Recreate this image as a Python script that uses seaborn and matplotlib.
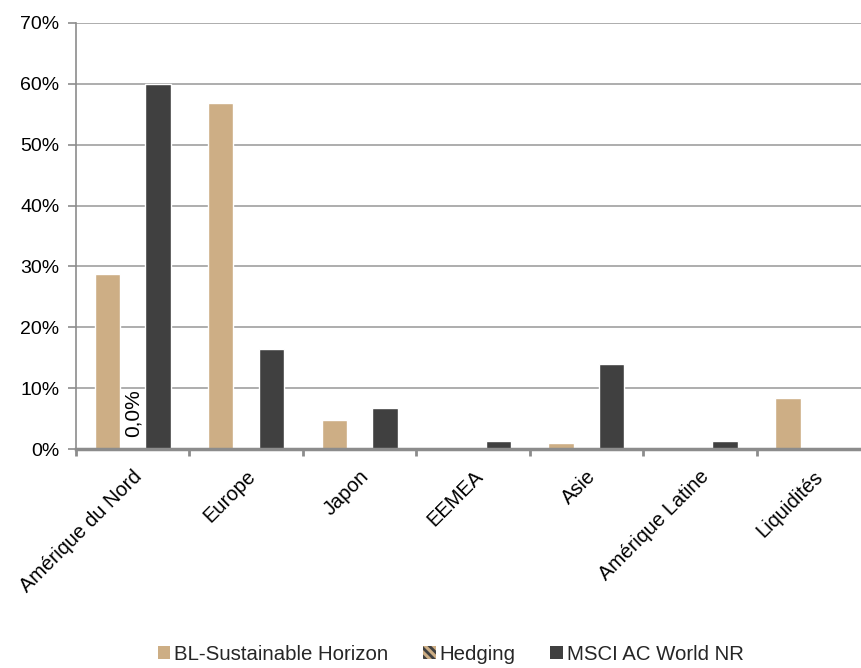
import pandas as pd
import numpy as np
import matplotlib
matplotlib.use("Agg")
import matplotlib.pyplot as plt
import seaborn as sns
from matplotlib.patches import Patch
from matplotlib.ticker import FuncFormatter, FixedLocator

# ---------------------------------------------
# Donnees (en %)
# ---------------------------------------------
regions = ["Amérique du Nord", "Europe", "Japon", "EEMEA", "Asie",
           "Amérique Latine", "Liquidités"]
series = ["BL-Sustainable Horizon", "Hedging", "MSCI AC World NR"]
fonds = [28.8, 56.8, 4.8, 0.0, 1.0, 0.0, 8.4]
hedging = [0.0, 0.0, 0.0, 0.0, 0.0, 0.0, 0.0]
msci = [60.0, 16.5, 6.7, 1.3, 14.0, 1.4, 0.0]

df = pd.DataFrame({
    "Region": regions * 3,
    "Serie": [series[0]] * 7 + [series[1]] * 7 + [series[2]] * 7,
    "Poids": fonds + hedging + msci,
})

tan = "#CDAE85"
dark = "#404040"
grid_col = "#A0A0A0"
axis_col = "#8C8C8C"

sns.set_theme(style="white")
plt.rcParams["font.family"] = ["Liberation Sans", "DejaVu Sans"]
plt.rcParams["hatch.linewidth"] = 2.0

fig = plt.figure(figsize=(8.62, 6.68), dpi=100)
ax = fig.add_axes([0.0882, 0.3278, 1.0 - 0.0882, 0.6378])

sns.barplot(data=df, x="Region", y="Poids", hue="Serie", hue_order=series,
            order=regions, palette=[tan, tan, dark], width=0.67, gap=0,
            saturation=1, ax=ax, legend=False)

# motif du hedging
for bar in ax.containers[1]:
    bar.set_hatch("\\\\\\\\")
    bar.set_edgecolor(dark)
    bar.set_linewidth(0)

ax.set_ylim(0, 70)
ax.set_xlim(-0.5, 6.43)
ax.set_yticks(np.arange(0, 71, 10))
ax.yaxis.set_major_formatter(FuncFormatter(lambda v, p: f"{v:.0f}%"))
ax.yaxis.grid(True, color=grid_col, linewidth=1.2)
ax.set_axisbelow(True)
ax.set_xlabel("")
ax.set_ylabel("")

for s in ["top", "right"]:
    ax.spines[s].set_visible(False)
ax.spines["left"].set_color(axis_col)
ax.spines["left"].set_linewidth(1.2)
ax.spines["bottom"].set_color(axis_col)
ax.spines["bottom"].set_linewidth(2.5)

ax.tick_params(axis="y", which="major", length=6, color=axis_col, width=1.2,
               labelsize=14, labelcolor="black", pad=6, left=True)
ax.tick_params(axis="x", which="major", length=0, labelsize=14.5,
               labelcolor="black", pad=13)
ax.xaxis.set_minor_locator(FixedLocator(np.arange(-0.5, 7, 1)))
ax.tick_params(axis="x", which="minor", length=5, width=2, color=axis_col,
               bottom=True)
plt.setp(ax.get_xticklabels(), rotation=45, ha="right", rotation_mode="anchor")

# etiquette 0,0% sur la barre hedging
ax.text(0, 2.0, "0,0%", rotation=90, ha="center", va="bottom", fontsize=15,
        color="black")

handles = [
    Patch(facecolor=tan, edgecolor="none", label=series[0]),
    Patch(facecolor=tan, edgecolor=dark, hatch="\\\\\\\\", linewidth=0,
          label=series[1]),
    Patch(facecolor=dark, edgecolor="none", label=series[2]),
]
fig.legend(handles=handles, loc="center", bbox_to_anchor=(0.523, 0.02),
           ncol=3, frameon=False, fontsize=14.7, handlelength=0.6,
           handleheight=0.6, handletextpad=0.2, columnspacing=1.7)

fig.savefig("out.png", dpi=100)
